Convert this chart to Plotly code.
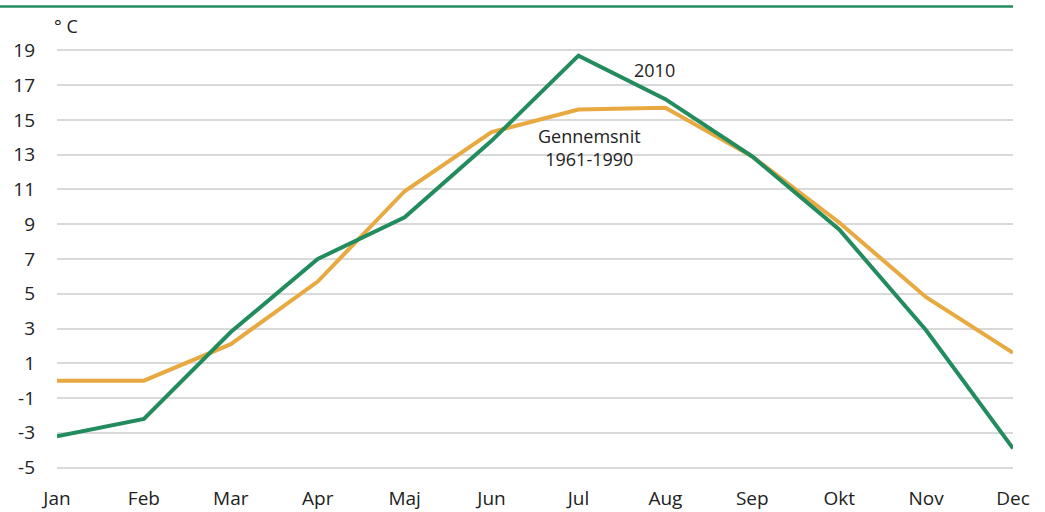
import plotly.graph_objects as go

months = ["Jan", "Feb", "Mar", "Apr", "Maj", "Jun", "Jul", "Aug", "Sep", "Okt", "Nov", "Dec"]
y2010 = [-3.2, -2.2, 2.8, 7.0, 9.4, 13.8, 18.7, 16.2, 12.9, 8.7, 2.9, -3.9]
avg_1961_1990 = [0.0, 0.0, 2.1, 5.7, 10.9, 14.3, 15.6, 15.7, 12.9, 9.1, 4.8, 1.6]
yticks = [-5, -3, -1, 1, 3, 5, 7, 9, 11, 13, 15, 17, 19]

green = "#238c5e"
orange = "#e8a940"
font = "Open Sans, sans-serif"

W, H = 1045, 512
L, R, T, B = 57, 32, 46.5, 40.5
PW, PH = W - L - R, H - T - B

xs = list(range(len(months)))
fig = go.Figure()
fig.add_trace(go.Scatter(x=xs, y=avg_1961_1990, mode="lines",
                         line=dict(color=orange, width=4), name="Gennemsnit 1961-1990"))
fig.add_trace(go.Scatter(x=xs, y=y2010, mode="lines",
                         line=dict(color=green, width=4), name="2010"))

fig.update_layout(
    width=W, height=H,
    margin=dict(l=L, r=R, t=T, b=B, autoexpand=False),
    paper_bgcolor="white", plot_bgcolor="white",
    showlegend=False,
    font=dict(family=font, size=19, color="#222222"),
    xaxis=dict(range=[0, 11], tickmode="array", tickvals=xs, ticktext=months,
               showgrid=False, zeroline=False, showline=False, automargin=False,
               ticklabelstandoff=14),
    yaxis=dict(range=[-5.2, 19.2], tickmode="array", tickvals=yticks,
               ticktext=[str(v) for v in yticks], automargin=False,
               showgrid=True, gridcolor="#d9d9d9", gridwidth=2,
               zeroline=False, showline=False, ticklabelstandoff=21),
    shapes=[dict(type="line", xref="paper", yref="paper",
                 x0=-L / PW, x1=(1013 - L) / PW,
                 y0=(H - B - 6) / PH, y1=(H - B - 6) / PH,
                 line=dict(color=green, width=2.5))],
    annotations=[
        dict(text="° C", xref="paper", yref="paper", x=(66 - L) / PW, y=(H - B - 25) / PH,
             showarrow=False, xanchor="center", yanchor="middle", font=dict(size=18)),
        dict(text="2010", xref="x", yref="y", x=6.88, y=17.86,
             showarrow=False, xanchor="center", yanchor="middle", font=dict(size=18)),
        dict(text="Gennemsnit<br>1961-1990", xref="x", yref="y", x=6.13, y=13.41,
             showarrow=False, xanchor="center", yanchor="middle", font=dict(size=18)),
    ],
)

fig.write_html("out.html", config={"displayModeBar": False},
               post_script="document.body.style.margin='0';document.body.style.overflow='hidden';")
